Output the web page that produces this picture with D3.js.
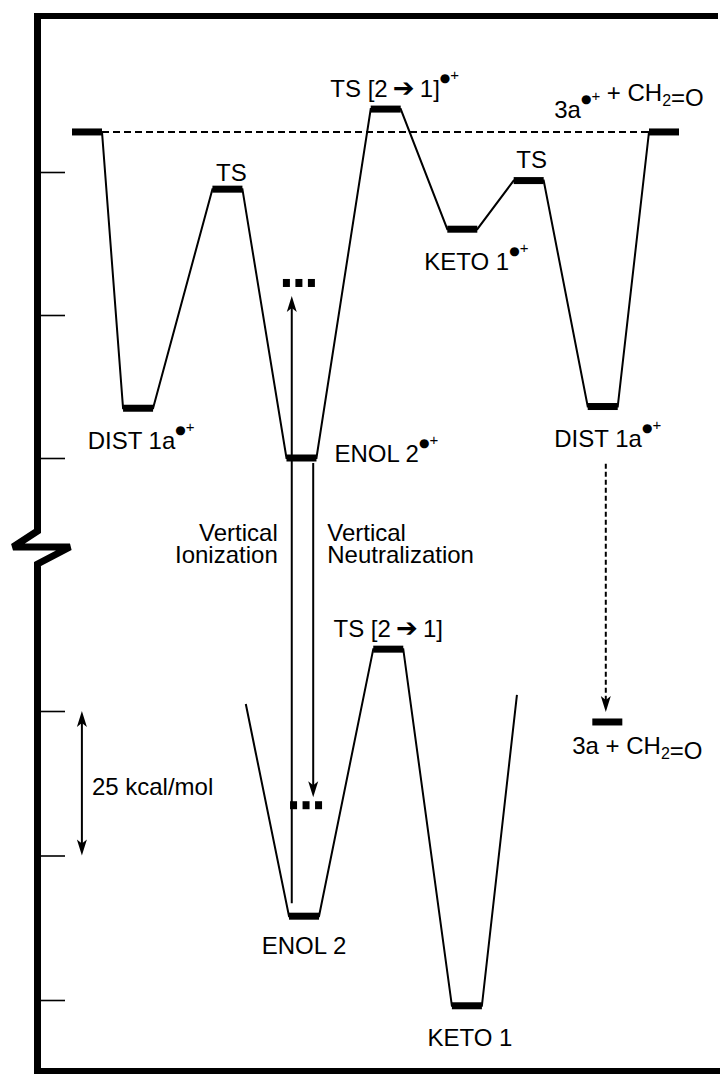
<!DOCTYPE html>
<html>
<head>
<meta charset="utf-8">
<script src="https://cdn.jsdelivr.net/npm/d3@7"></script>
<style>
  body { margin: 0; background: #fff; }
  text { font-family: "Liberation Sans", Arial, Helvetica, sans-serif; font-size: 24px; fill: #000; }
</style>
</head>
<body>
<div id="graph"></div>
<script>
// radical cation surface (upper panel), energies in kcal/mol relative to ENOL 2•+
var cationNames = ["", "DIST 1a•+", "TS", "ENOL 2•+", "TS [2➔1]•+", "KETO 1•+", "TS", "DIST 1a•+", "3a•+ + CH2=O"]
var cationCoord = [0, 1.0, 2.75, 4.2, 5.85, 7.35, 8.65, 10.1, 11.3]
var cationEnergy = [57, 8.7, 47, 0, 61, 40, 48.5, 9, 57]

// neutral surface (lower panel), kcal/mol relative to the lowest tick
var neutralNames = ["ENOL 2", "TS [2➔1]", "KETO 1"]
var neutralCoord = [4.25, 5.9, 7.44]
var neutralEnergy = [14.5, 60.7, -1]
var wallCoord = [3.11, 8.42]
var wallEnergy = [51.2, 52.8]

// neutral dissociation products
var productName = "3a + CH2=O"
var productCoord = 10.19
var productEnergy = 48.1

var tickValues = [0, 25, 50]

// Franck-Condon points reached by the vertical transitions
var ionizationCoord = 4.01, ionizationTarget = 30.6      // lands on cation surface
var neutralizationCoord = 4.43, neutralizationTarget = 33.7 // lands on neutral surface
var fcCationCoord = 4.15, fcNeutralCoord = 4.29
var dissociationCoord = 10.16
var scaleBarCoord = -0.1, scaleBarFrom = 50, scaleBarTo = 25

var W = 720, H = 1074
var svg = d3.select("#graph").append("svg").attr("width", W).attr("height", H)

var x = d3.scaleLinear().domain([0, 11.3]).range([87, 664])
var yU = d3.scaleLinear().domain([0, 50]).range([458, 172])
var yL = d3.scaleLinear().domain([0, 50]).range([1000, 711])
var hw = 15, barH = 7

// frame with axis break
svg.append("line").attr("x1", 34).attr("x2", 718).attr("y1", 16).attr("y2", 16)
    .attr("stroke", "black").attr("stroke-width", 6)
svg.append("line").attr("x1", 37).attr("x2", 720).attr("y1", 1071).attr("y2", 1071)
    .attr("stroke", "black").attr("stroke-width", 6)
svg.append("path")
    .attr("d", "M37.5,13 L37.5,531 L13,547 L70,547 L37.5,564 L37.5,1074")
    .attr("fill", "none").attr("stroke", "black").attr("stroke-width", 7)
    .attr("stroke-linejoin", "miter").attr("stroke-miterlimit", 2)

function tickAxis(scale) {
    var g = svg.append("g").attr("transform", "translate(41,0)")
        .call(d3.axisRight(scale).tickValues(tickValues).tickSize(24).tickFormat(""))
    g.select(".domain").remove()
    g.selectAll(".tick line").attr("stroke", "black").attr("stroke-width", 1.6)
}
tickAxis(yU)
tickAxis(yL)

var line = d3.line()

function levelPoints(coords, energies, y) {
    var pts = []
    coords.forEach(function (c, i) {
        pts.push([x(c) - hw, y(energies[i])])
        pts.push([x(c) + hw, y(energies[i])])
    })
    return pts
}

// cation surface
svg.append("path").attr("d", line(levelPoints(cationCoord, cationEnergy, yU)))
    .attr("fill", "none").attr("stroke", "black").attr("stroke-width", 2)
// neutral surface, open at both walls
var npts = levelPoints(neutralCoord, neutralEnergy, yL)
npts.unshift([x(wallCoord[0]), yL(wallEnergy[0])])
npts.push([x(wallCoord[1]), yL(wallEnergy[1])])
svg.append("path").attr("d", line(npts))
    .attr("fill", "none").attr("stroke", "black").attr("stroke-width", 2)

// dissociation threshold (dashed)
svg.append("line")
    .attr("x1", x(cationCoord[0]) + hw).attr("x2", x(cationCoord[8]) - hw)
    .attr("y1", yU(cationEnergy[0])).attr("y2", yU(cationEnergy[8]))
    .attr("stroke", "black").attr("stroke-width", 2).attr("stroke-dasharray", "7,4")

function bars(coords, energies, y) {
    svg.append("g").selectAll("rect").data(coords).join("rect")
        .attr("x", function (c) { return x(c) - hw })
        .attr("y", function (c, i) { return y(energies[i]) - barH / 2 })
        .attr("width", hw * 2).attr("height", barH).attr("fill", "black")
}
bars(cationCoord, cationEnergy, yU)
bars(neutralCoord, neutralEnergy, yL)
bars([productCoord], [productEnergy], yL)

// Franck-Condon markers (three small squares)
function fcMarker(cx, cy) {
    svg.append("g").selectAll("rect").data([-1, 0, 1]).join("rect")
        .attr("x", function (k) { return cx + k * 12.5 - 3.5 })
        .attr("y", cy - 4).attr("width", 7).attr("height", 8).attr("fill", "black")
}
fcMarker(x(fcCationCoord), yU(ionizationTarget))
fcMarker(x(fcNeutralCoord), yL(neutralizationTarget))

function arrowHead(px, tipY, dir) {
    // dir = -1 pointing up, +1 pointing down
    var b = tipY - dir * 16, m = tipY - dir * 12
    svg.append("path")
        .attr("d", "M" + px + "," + tipY + " L" + (px - 5) + "," + b + " L" + px + "," + m + " L" + (px + 5) + "," + b + " Z")
        .attr("fill", "black")
}

function vArrow(px, y1, y2, dash) {
    var dir = y2 > y1 ? 1 : -1
    svg.append("line").attr("x1", px).attr("x2", px).attr("y1", y1).attr("y2", y2 - dir * 10)
        .attr("stroke", "black").attr("stroke-width", 2)
        .attr("stroke-dasharray", dash || null)
    arrowHead(px, y2, dir)
}

// vertical ionization: neutral ENOL 2 -> cation surface
vArrow(x(ionizationCoord), yL(neutralEnergy[0]) - 13, yU(ionizationTarget) + 13)
// vertical neutralization: ENOL 2•+ -> neutral surface
vArrow(x(neutralizationCoord), yU(cationEnergy[3]) + 5, yL(neutralizationTarget) - 8)
// dissociation of DIST 1a•+ to neutral products (dotted)
vArrow(x(dissociationCoord), yU(-1), yL(productEnergy) - 10, "5,3")

// 25 kcal/mol scale bar
var sb = x(scaleBarCoord)
svg.append("line").attr("x1", sb).attr("x2", sb)
    .attr("y1", yL(scaleBarFrom) + 10).attr("y2", yL(scaleBarTo) - 10)
    .attr("stroke", "black").attr("stroke-width", 2)
arrowHead(sb, yL(scaleBarFrom), -1)
arrowHead(sb, yL(scaleBarTo), 1)
svg.append("text").attr("x", sb + 10).attr("y", (yL(scaleBarFrom) + yL(scaleBarTo)) / 2 + 12)
    .text("25 kcal/mol")

// labels with superscript •+ and subscript 2
function richText(sel, s) {
    var parts = s.split(/(•\+|H2|➔)/)
    parts.forEach(function (p) {
        if (p === "") return
        if (p === "•+") {
            sel.append("tspan").attr("dy", -15).attr("font-family", "DejaVu Sans").attr("font-size", 12).text("●")
            sel.append("tspan").attr("dy", -2).attr("font-size", 15).text("+")
            sel.append("tspan").attr("dy", 17).text("")
        } else if (p === "H2") {
            sel.append("tspan").text("H")
            sel.append("tspan").attr("dy", 5).attr("font-size", 16).text("2")
            sel.append("tspan").attr("dy", -5).text("")
        } else if (p === "➔") {
            sel.append("tspan").attr("font-family", "DejaVu Sans").attr("font-size", 26).text("\u2009➔\u2009")
        } else {
            sel.append("tspan").text(p)
        }
    })
}

// label placement: [dx, dy] from bar centre
var cationLabelPos = [null, [3, 41], [4, -8], [33, 4], [9, -12], [14, 41], [3, -13], [5, 40], [-35, -14]]
var neutralLabelPos = [[0, 38], [0, -12], [3, 40]]

function labels(names, coords, energies, y, pos, startIndex) {
    names.forEach(function (n, i) {
        if (!pos[i] || !n) return
        var t = svg.append("text")
            .attr("x", x(coords[i]) + pos[i][0])
            .attr("y", y(energies[i]) + pos[i][1])
            .attr("text-anchor", i === startIndex ? "start" : "middle")
        richText(t, n)
    })
}
labels(cationNames, cationCoord, cationEnergy, yU, cationLabelPos, 3)
labels(neutralNames, neutralCoord, neutralEnergy, yL, neutralLabelPos, -1)
labels([productName], [productCoord], [productEnergy], yL, [[30, 32]], -1)

// transition captions
var ion = svg.append("text").attr("text-anchor", "end").attr("x", x(ionizationCoord) - 14).attr("y", 541)
ion.append("tspan").text("Vertical")
ion.append("tspan").attr("x", x(ionizationCoord) - 14).attr("dy", 22).text("Ionization")
var neu = svg.append("text").attr("x", x(neutralizationCoord) + 14).attr("y", 541)
neu.append("tspan").text("Vertical")
neu.append("tspan").attr("x", x(neutralizationCoord) + 14).attr("dy", 22).text("Neutralization")
</script>
</body>
</html>
